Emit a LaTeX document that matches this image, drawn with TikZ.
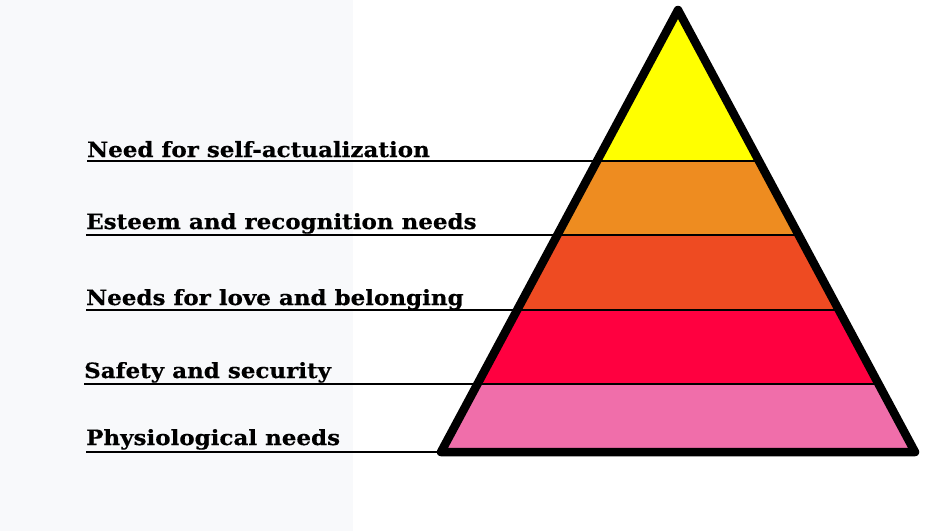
\documentclass[tikz,border=0pt]{standalone}
\usepackage{fontspec}
\setmainfont{DejaVu Serif}[BoldFeatures={FakeStretch=1.095, FakeBold=0.5}]
\usepackage{xcolor}
\usetikzlibrary{
    positioning,
    calc
  }
\definecolor{leftpanel}{RGB}{248,249,251}
\definecolor{selfcolor}{RGB}{255,255,0}
\definecolor{esteemcolor}{RGB}{238,140,32}
\definecolor{lovecolor}{RGB}{238,75,34}
\definecolor{safetycolor}{RGB}{255,0,64}
\definecolor{physiocolor}{RGB}{240,110,170}
\tikzset{
  needlabel/.style={anchor=base west, inner sep=0pt, font=\bfseries\fontsize{21}{25}\selectfont},
  needline/.style={draw=black, line width=1.1pt},
  bandline/.style={draw=black, line width=1.2pt}
}

\begin{document}
\begin{tikzpicture}[x=1pt, y=-1pt]

\useasboundingbox (0,0) rectangle (945,531);
\path[fill=white] (0,0) rectangle (945,531);
\path[fill=leftpanel] (0,0) rectangle (353,531);

\path[]
  (678,10) coordinate (apex)
  (441,452) coordinate (base_left)
  (915,452) coordinate (base_right)
;

\foreach \band/\yy in {self/161, esteem/235, love/310, safety/384} {
  \path[]
    ($(base_left)!{(452-\yy)/442}!(apex)$) coordinate (left_\band)
    ($(base_right)!{(452-\yy)/442}!(apex)$) coordinate (right_\band)
  ;
}

% bands, top to bottom
\path[fill=selfcolor]
  (apex) -- (right_self) -- (left_self) -- cycle
;
\path[fill=esteemcolor]
  (left_self) -- (right_self) -- (right_esteem) -- (left_esteem) -- cycle
;
\path[fill=lovecolor]
  (left_esteem) -- (right_esteem) -- (right_love) -- (left_love) -- cycle
;
\path[fill=safetycolor]
  (left_love) -- (right_love) -- (right_safety) -- (left_safety) -- cycle
;
\path[fill=physiocolor]
  (left_safety) -- (right_safety) -- (base_right) -- (base_left) -- cycle
;

\foreach \band in {self, esteem, love, safety} {
  \path[bandline] (left_\band) -- (right_\band);
}

% labels
\node[needlabel] (self_label) at (87,157) {Need for self-actualization};
\node[needlabel] (esteem_label) at (86,229) {Esteem and recognition needs};
\node[needlabel] (love_label) at (86,305) {Needs for love and belonging};
\node[needlabel] (safety_label) at (84,378) {Safety and security};
\node[needlabel] (physio_label) at (86,445) {Physiological needs};

\path[needline] (self_label.west |- left_self) -- (left_self);
\path[needline] (esteem_label.west |- left_esteem) -- (left_esteem);
\path[needline] (love_label.west |- left_love) -- (left_love);
\path[needline] (safety_label.west |- left_safety) -- (left_safety);
\path[needline] (physio_label.west |- base_left) -- (base_left);

% outline
\path[draw=black, line width=8.5pt, line join=round]
  (apex) -- (base_right) -- (base_left) -- cycle
;

\end{tikzpicture}
\end{document}
